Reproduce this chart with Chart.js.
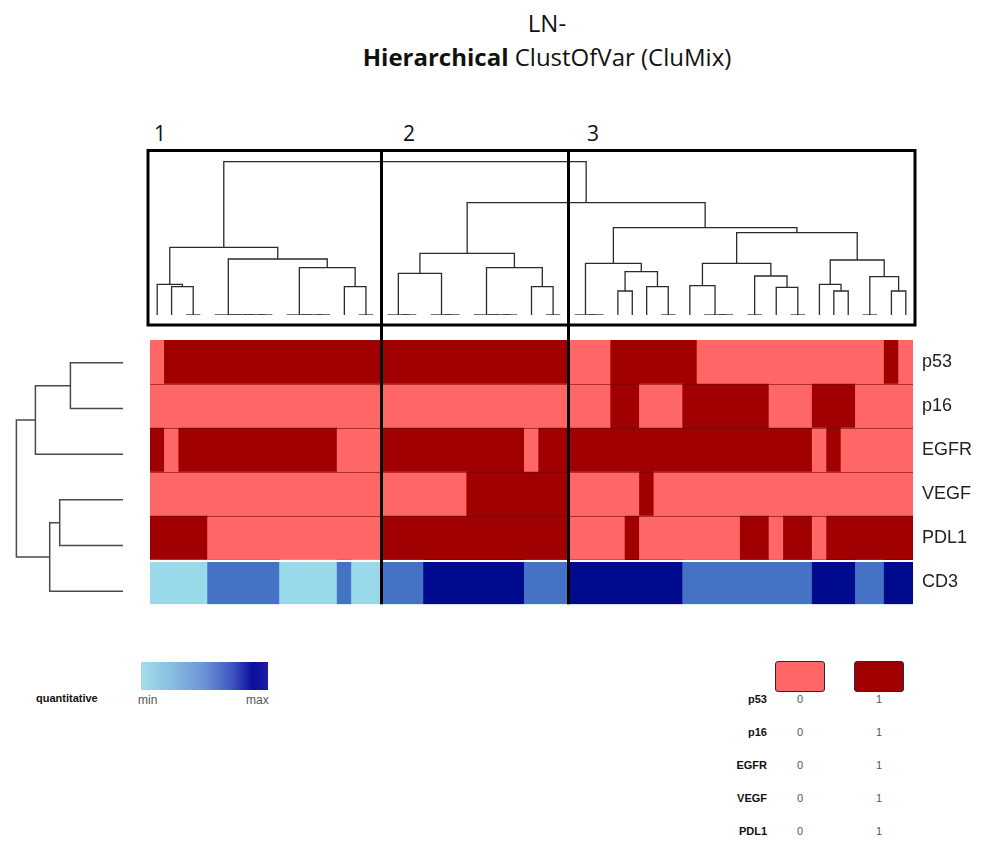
<!DOCTYPE html>
<html>
<head>
<meta charset="utf-8">
<script src="https://cdn.jsdelivr.net/npm/chart.js@4.4.1/dist/chart.umd.min.js"></script>
<style>
  body { margin: 0; background: #fff; width: 992px; height: 841px; position: relative; overflow: hidden; font-family: "Liberation Sans", Arial, sans-serif; }
  canvas { position: absolute; }
  .t { position: absolute; white-space: nowrap; }
  .title { left: 297px; width: 500px; text-align: center; font-family: "Open Sans", sans-serif; font-size: 24px; line-height: 32px; color: #111; }
  .num { font-family: "Open Sans", sans-serif; font-size: 21px; color: #111; top: 119px; }
  .lab { left: 690px; width: 77px; text-align: right; font: bold 11px "Liberation Sans", Arial, sans-serif; color: #111; }
  .val { font: 11px "Liberation Sans", Arial, sans-serif; color: #555; width: 20px; text-align: center; opacity: 0.99; }
  .sw { position: absolute; top: 661px; width: 48px; height: 29px; border: 1px solid #2a2a2a; border-radius: 3px; }
</style>
</head>
<body>
<div class="t title" style="top:7px">LN-</div>
<div class="t title" style="top:41px"><b>Hierarchical</b> ClustOfVar (CluMix)</div>
<div class="t num" style="left:154px">1</div>
<div class="t num" style="left:403px">2</div>
<div class="t num" style="left:587px">3</div>

<canvas id="colDendro" width="800" height="190" style="left:130px;top:140px"></canvas>
<canvas id="rowDendro" width="140" height="294" style="left:0;top:330px"></canvas>
<canvas id="heat" width="852" height="304" style="left:140px;top:320px"></canvas>

<div class="t" style="left:36px;top:692px;font:bold 11px 'Liberation Sans',Arial,sans-serif;color:#111">quantitative</div>
<div style="position:absolute;left:141px;top:662px;width:127px;height:28px;background:linear-gradient(90deg,#a6dcea 0%,#86bde2 25%,#6a93d6 50%,#3e55c0 72%,#0c0c9c 88%,#1e1ea6 100%)"></div>
<div class="t" style="left:138px;top:693px;font:12px 'Liberation Sans',Arial,sans-serif;color:#555">min</div>
<div class="t" style="left:246px;top:693px;font:12px 'Liberation Sans',Arial,sans-serif;color:#555">max</div>

<div class="sw" style="left:775px;background:#ff6666"></div>
<div class="sw" style="left:854px;background:#a00000"></div>
<div id="binLegend"></div>

<script>
// heatmap rows (top to bottom)
const categories = ["p53", "p16", "EGFR", "VEGF", "PDL1", "CD3"];
const clusterBreaks = [0, 16, 29, 53];

// binary markers per sample, 0 = light red, 1 = dark red
const p53  = [0,1,1,1,1,1,1,1,1,1,1,1,1,1,1,1, 1,1,1,1,1,1,1,1,1,1,1,1,1, 0,0,0,1,1,1,1,1,1,0,0,0,0,0,0,0,0,0,0,0,0,0,1,0];
const p16  = [0,0,0,0,0,0,0,0,0,0,0,0,0,0,0,0, 0,0,0,0,0,0,0,0,0,0,0,0,0, 0,0,0,1,1,0,0,0,1,1,1,1,1,1,0,0,0,1,1,1,0,0,0,0];
const EGFR = [1,0,1,1,1,1,1,1,1,1,1,1,1,0,0,0, 1,1,1,1,1,1,1,1,1,1,0,1,1, 1,1,1,1,1,1,1,1,1,1,1,1,1,1,1,1,1,0,1,0,0,0,0,0];
const VEGF = [0,0,0,0,0,0,0,0,0,0,0,0,0,0,0,0, 0,0,0,0,0,0,1,1,1,1,1,1,1, 0,0,0,0,0,1,0,0,0,0,0,0,0,0,0,0,0,0,0,0,0,0,0,0];
const PDL1 = [1,1,1,1,0,0,0,0,0,0,0,0,0,0,0,0, 1,1,1,1,1,1,1,1,1,1,1,1,1, 0,0,0,0,1,0,0,0,0,0,0,0,1,1,0,1,1,0,1,1,1,1,1,1];
// quantitative CD3, binned 0 = low, 1 = mid, 2 = high
const CD3  = [0,0,0,0,1,1,1,1,1,0,0,0,0,1,0,0, 1,1,1,2,2,2,2,2,2,2,1,1,1, 2,2,2,2,2,2,2,2,1,1,1,1,1,1,1,1,1,2,2,2,1,1,2,2];

// sample dendrogram: [height, left, right], numbers are leaves
const colTree = [1.533,
  [0.677,
    [0.307, 0, [0.283, 1, [0, 2, 3]]],
    [0.56, [0, 4, [0, 5, [0, 6, [0, 7, 8]]]],
           [0.473, [0, 9, [0, 10, [0, 11, 12]]], [0.283, 13, [0, 14, 15]]]]],
  [1.123,
    [0.617,
      [0.417, [0, 16, [0, 17, 18]], [0, 19, [0, 20, 21]]],
      [0.473, [0, 22, [0, 23, [0, 24, 25]]], [0.283, 26, [0, 27, 28]]]],
    [0.873,
      [0.517, [0, 29, [0, 30, 31]], [0.433, [0.24, 32, 33], [0.283, 34, [0, 35, 36]]]],
      [0.823,
        [0.517, [0.293, 37, [0, 38, [0, 39, 40]]], [0.39, [0, 41, 42], [0.277, 43, [0, 44, 45]]]],
        [0.55, [0.307, 46, [0.24, 47, 48]], [0.383, [0, 49, 50], [0.24, 51, 52]]]]]]];

// variable dendrogram
const rowTree = [1.066, [0.876, [0.526, 0, 1], 2], [0.733, [0.633, 3, 4], 5]];

const binColors = ["#ff6666", "#a00000"];
const cd3Colors = ["#99d9ea", "#4472c4", "#000a8c"];
const FONT = "'Liberation Sans', Arial, sans-serif";

function collectLinks(node, links) {
  if (typeof node === "number") return { pos: node + 0.5, h: 0 };
  const [h, l, r] = node;
  const a = collectLinks(l, links);
  const b = collectLinks(r, links);
  links.push({ a, b, h });
  return { pos: (a.pos + b.pos) / 2, h };
}

function linkDatasets(tree, horizontal, color, width) {
  const links = [];
  collectLinks(tree, links);
  return links.map(({ a, b, h }) => {
    const pts = [[a.pos, a.h], [a.pos, h], [b.pos, h], [b.pos, b.h]];
    return {
      data: pts.map(([p, v]) => horizontal ? { x: v, y: p } : { x: p, y: v }),
      showLine: true, borderColor: color, borderWidth: width,
      pointRadius: 0, tension: 0, fill: false
    };
  });
}

const noChrome = { legend: { display: false }, tooltip: { enabled: false } };

// top dendrogram with cluster boxes
const clusterBoxes = {
  id: "clusterBoxes",
  afterDraw(chart) {
    const { ctx, scales: { x, y } } = chart;
    const left = x.getPixelForValue(0) - 2, right = x.getPixelForValue(53) + 2;
    const top = y.getPixelForValue(1.645), bottom = y.getPixelForValue(-0.1);
    ctx.save();
    ctx.strokeStyle = "#000";
    ctx.lineWidth = 3;
    ctx.strokeRect(left, top, right - left, bottom - top);
    clusterBreaks.slice(1, -1).forEach((b) => {
      const px = Math.round(x.getPixelForValue(b)) + 1.5;
      ctx.beginPath(); ctx.moveTo(px, top); ctx.lineTo(px, chart.height); ctx.stroke();
    });
    ctx.restore();
  }
};

new Chart(document.getElementById("colDendro"), {
  type: "scatter",
  data: { datasets: linkDatasets(colTree, false, "#2b2b2b", 1.3) },
  options: {
    responsive: false, animation: false, events: [],
    layout: { padding: { left: 20, right: 17, top: 15, bottom: 15 } },
    scales: {
      x: { type: "linear", min: 0, max: 53, display: false },
      y: { type: "linear", min: 0, max: 1.6, display: false }
    },
    plugins: noChrome
  },
  plugins: [clusterBoxes]
});

new Chart(document.getElementById("rowDendro"), {
  type: "scatter",
  data: { datasets: linkDatasets(rowTree, true, "#4a4a4a", 1.5) },
  options: {
    responsive: false, animation: false, events: [],
    layout: { padding: { left: 13, right: 17, top: 10, bottom: 10 } },
    scales: {
      x: { type: "linear", min: 0, max: 1.1, reverse: true, display: false },
      y: { type: "linear", min: 0, max: 6, reverse: true, display: false }
    },
    plugins: noChrome
  }
});

// heatmap: consecutive equal cells merged into floating bars
const rows = [p53, p16, EGFR, VEGF, PDL1, CD3];
const bars = [], barColors = [];
rows.forEach((vals, r) => {
  const palette = categories[r] === "CD3" ? cd3Colors : binColors;
  let start = 0;
  for (let i = 1; i <= vals.length; i++) {
    if (i === vals.length || vals[i] !== vals[start]) {
      bars.push({ x: [start, i], y: categories[r] });
      barColors.push(palette[vals[start]]);
      start = i;
    }
  }
});

const heatDecor = {
  id: "heatDecor",
  afterDatasetsDraw(chart) {
    const { ctx, chartArea: a, scales: { x, y } } = chart;
    ctx.save();
    for (let i = 1; i < categories.length; i++) {
      const py = Math.round((y.getPixelForValue(i - 1) + y.getPixelForValue(i)) / 2);
      const last = i === categories.length - 1;
      ctx.strokeStyle = last ? "#ffffff" : "rgba(110,0,0,0.55)";
      ctx.lineWidth = last ? 2 : 1;
      ctx.beginPath(); ctx.moveTo(a.left, py + (last ? 1 : 0.5)); ctx.lineTo(a.right, py + (last ? 1 : 0.5)); ctx.stroke();
    }
    ctx.strokeStyle = "#000";
    ctx.lineWidth = 3;
    clusterBreaks.slice(1, -1).forEach((b) => {
      const px = Math.round(x.getPixelForValue(b)) + 1.5;
      ctx.beginPath(); ctx.moveTo(px, 0); ctx.lineTo(px, a.bottom); ctx.stroke();
    });
    ctx.restore();
  }
};

new Chart(document.getElementById("heat"), {
  type: "bar",
  data: {
    labels: categories,
    datasets: [{ data: bars, backgroundColor: barColors, borderWidth: 0, barPercentage: 1, categoryPercentage: 1 }]
  },
  options: {
    indexAxis: "y",
    responsive: false, animation: false, events: [],
    layout: { padding: { left: 10, right: 0, top: 20, bottom: 10 } },
    scales: {
      x: { type: "linear", min: 0, max: 53, display: false },
      y: {
        type: "category", position: "right",
        grid: { display: false, drawTicks: false }, border: { display: false },
        ticks: { padding: 9, color: "#222", font: { family: FONT, size: 18 } },
        afterFit(s) { s.width = 79; }
      }
    },
    plugins: noChrome
  },
  plugins: [heatDecor]
});

// binary legend table
const legendY = [693, 726, 759, 792, 825];
const legend = document.getElementById("binLegend");
categories.slice(0, 5).forEach((name, i) => {
  legend.insertAdjacentHTML("beforeend",
    `<div class="t lab" style="top:${legendY[i]}px">${name}</div>` +
    `<div class="t val" style="left:790px;top:${legendY[i]}px">0</div>` +
    `<div class="t val" style="left:869px;top:${legendY[i]}px">1</div>`);
});
</script>
</body>
</html>
